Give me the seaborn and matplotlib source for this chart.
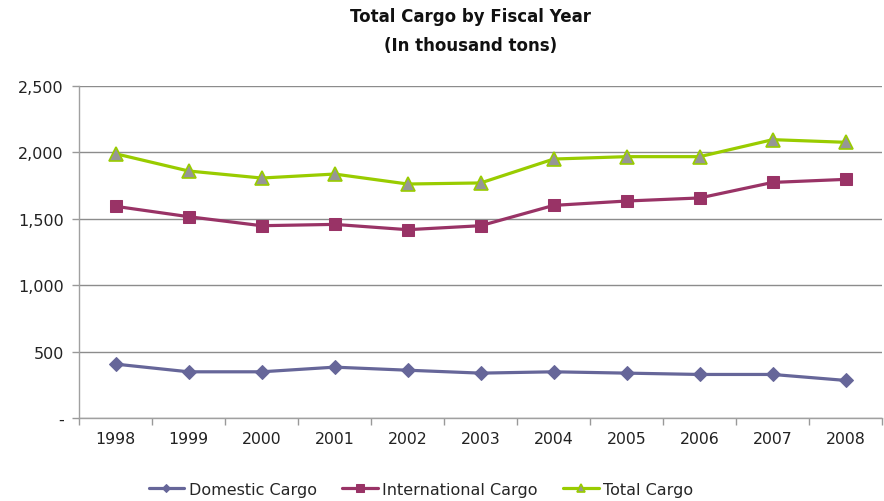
import matplotlib
matplotlib.use("Agg")
import matplotlib.pyplot as plt
from matplotlib.ticker import FixedLocator, FuncFormatter
import seaborn as sns
import pandas as pd
import numpy as np

years = ["1998", "1999", "2000", "2001", "2002", "2003", "2004", "2005", "2006", "2007", "2008"]
domestic = [406, 348, 348, 383, 360, 338, 348, 338, 328, 328, 283]
international = [1594, 1516, 1448, 1458, 1418, 1448, 1601, 1634, 1657, 1774, 1797]
total = [1990, 1860, 1807, 1837, 1762, 1770, 1950, 1968, 1968, 2096, 2076]
y_ticks = [0, 500, 1000, 1500, 2000, 2500]

sns.set_theme(style="white")
plt.rcParams["font.family"] = ["DejaVu Sans"]

fig = plt.figure(figsize=(8.84, 5.02), dpi=100)
ax = fig.add_axes([0.0894, 0.1653, 0.9086, 0.6614])

pos = np.arange(len(years))
df = pd.DataFrame({"pos": pos, "Domestic Cargo": domestic,
                   "International Cargo": international, "Total Cargo": total})

sns.lineplot(data=df, x="pos", y="Domestic Cargo", ax=ax, color="#666699", lw=2.3,
             marker="D", markersize=7.5, markerfacecolor="#666699",
             markeredgecolor="#666699", label="Domestic Cargo")
sns.lineplot(data=df, x="pos", y="International Cargo", ax=ax, color="#993366", lw=2.3,
             marker="s", markersize=9, markerfacecolor="#993366",
             markeredgecolor="#993366", label="International Cargo")
sns.lineplot(data=df, x="pos", y="Total Cargo", ax=ax, color="#99CC00", lw=2.3,
             marker="^", markersize=10.5, markerfacecolor="#969696",
             markeredgecolor="#99CC00", markeredgewidth=1.2, label="Total Cargo")

ax.set_xlim(-0.5, len(years) - 0.5)
ax.set_ylim(0, 2500)
ax.set_xlabel("")
ax.set_ylabel("")

ax.set_xticks(pos)
ax.set_xticklabels(years, fontsize=11.3, color="#222222")
ax.xaxis.set_minor_locator(FixedLocator(np.arange(-0.5, len(years), 1.0)))
ax.tick_params(axis="x", which="major", length=0, pad=9)
ax.tick_params(axis="x", which="minor", length=5, color="#999999", width=1,
               direction="out", bottom=True)

ax.set_yticks(y_ticks)
ax.yaxis.set_major_formatter(FuncFormatter(lambda v, p: "-" if v == 0 else f"{int(v):,}"))
ax.tick_params(axis="y", length=5, color="#999999", width=1, direction="out",
               labelsize=11.5, labelcolor="#222222", pad=6, left=True)

ax.grid(axis="y", color="#8c8c8c", lw=1)
ax.grid(axis="x", visible=False)
ax.set_axisbelow(True)

for side in ["top", "right"]:
    ax.spines[side].set_visible(False)
for side in ["left", "bottom"]:
    ax.spines[side].set_color("#a0a0a0")
    ax.spines[side].set_linewidth(1)

fig.text(0.532, 0.966, "Total Cargo by Fiscal Year", ha="center", va="center",
         fontsize=12, fontweight="bold", color="#111111")
fig.text(0.532, 0.909, "(In thousand tons)", ha="center", va="center",
         fontsize=12, fontweight="bold", color="#111111")

ax.legend(loc="center", bbox_to_anchor=(0.426, -0.214), ncol=3, frameon=False,
          fontsize=11.5, handlelength=2.2, columnspacing=1.6, handletextpad=0.3,
          markerscale=0.6)

fig.savefig("out.png", dpi=100)
